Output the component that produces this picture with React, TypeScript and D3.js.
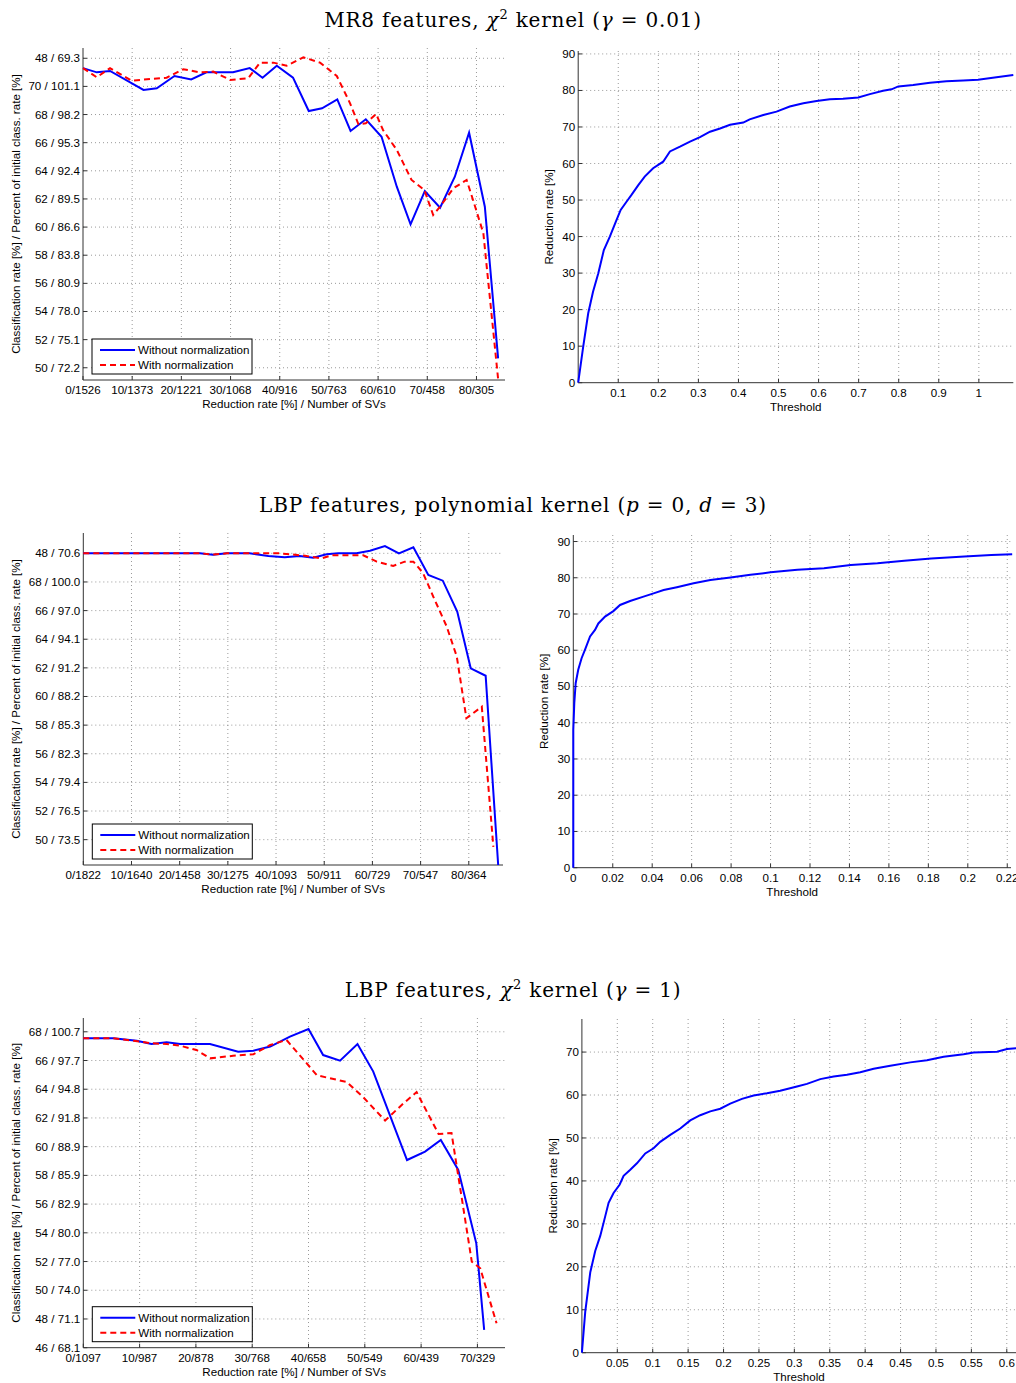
import React, { useEffect, useRef } from "react";
import * as d3 from "d3";

const SANS = "Liberation Sans, Arial, Helvetica, sans-serif";
const SERIF = "DejaVu Serif, Liberation Serif, serif";
const FS = 11.6;

// ---- MR8 features, chi2 kernel (gamma = 0.01) ----
const mr8XLabels = ["0/1526", "10/1373", "20/1221", "30/1068", "40/916", "50/763", "60/610", "70/458", "80/305"];
const mr8YTicks = [72, 70, 68, 66, 64, 62, 60, 58, 56, 54, 52, 50];
const mr8YLabels = ["48 / 69.3", "70 / 101.1", "68 / 98.2", "66 / 95.3", "64 / 92.4", "62 / 89.5", "60 / 86.6", "58 / 83.8", "56 / 80.9", "54 / 78.0", "52 / 75.1", "50 / 72.2"];
const mr8Without: [number, number][] = [
  [0, 71.3], [2.8, 71.0], [5.5, 71.1], [12.3, 69.75], [15.0, 69.87], [18.6, 70.74], [22.0, 70.5],
  [25.1, 71.0], [30.5, 71.0], [33.9, 71.3], [36.5, 70.62], [39.4, 71.47], [42.7, 70.62], [45.9, 68.25],
  [48.6, 68.44], [51.7, 69.08], [54.4, 66.83], [57.5, 67.66], [60.7, 66.42], [63.8, 62.87], [66.6, 60.19],
  [69.5, 62.56], [72.6, 61.38], [75.6, 63.58], [78.5, 66.71], [81.7, 61.45], [84.4, 50.67],
];
const mr8With: [number, number][] = [
  [0, 71.3], [2.8, 70.65], [5.5, 71.3], [9.9, 70.41], [17.0, 70.62], [20.4, 71.22], [23.8, 71.0],
  [26.5, 71.05], [29.9, 70.46], [33.6, 70.58], [36.0, 71.69], [38.7, 71.69], [41.4, 71.47], [44.8, 72.07],
  [48.2, 71.69], [49.9, 71.22], [51.6, 70.74], [54.3, 68.8], [56.0, 67.31], [57.5, 67.38], [59.6, 68.04],
  [61.0, 66.9], [63.8, 65.48], [66.8, 63.35], [69.4, 62.64], [71.2, 60.86], [72.6, 61.45], [75.3, 62.76],
  [78.0, 63.35], [79.3, 61.93], [81.4, 59.56], [84.4, 49.2],
];
const mr8Threshold: [number, number][] = [
  [0, 0], [0.0125, 9.9], [0.025, 19], [0.037, 24.9], [0.05, 29.9], [0.064, 36.3], [0.079, 40],
  [0.094, 44.1], [0.106, 47.3], [0.121, 49.6], [0.133, 51.4], [0.15, 54.1], [0.166, 56.4], [0.187, 58.7],
  [0.212, 60.5], [0.229, 63.3], [0.254, 64.6], [0.279, 66], [0.304, 67.2], [0.329, 68.7], [0.354, 69.6],
  [0.379, 70.6], [0.412, 71.2], [0.428, 72.1], [0.462, 73.3], [0.495, 74.2], [0.528, 75.6], [0.562, 76.5],
  [0.595, 77.1], [0.628, 77.6], [0.661, 77.7], [0.699, 78.1], [0.728, 79.0], [0.761, 79.9], [0.782, 80.3],
  [0.799, 81.1], [0.836, 81.5], [0.878, 82.1], [0.919, 82.5], [0.961, 82.7], [0.998, 82.9], [1.044, 83.6],
  [1.086, 84.2],
];

// ---- LBP features, polynomial kernel (p = 0, d = 3) ----
const polyXLabels = ["0/1822", "10/1640", "20/1458", "30/1275", "40/1093", "50/911", "60/729", "70/547", "80/364"];
const polyYTicks = [70, 68, 66, 64, 62, 60, 58, 56, 54, 52, 50];
const polyYLabels = ["48 / 70.6", "68 / 100.0", "66 / 97.0", "64 / 94.1", "62 / 91.2", "60 / 88.2", "58 / 85.3", "56 / 82.3", "54 / 79.4", "52 / 76.5", "50 / 73.5"];
const polyWithout: [number, number][] = [
  [0, 70], [24.2, 70], [26.9, 69.9], [29.8, 70], [34.5, 70], [38.4, 69.81], [41.8, 69.72], [44.9, 69.81],
  [47.7, 69.7], [50.5, 69.94], [52.9, 70], [56.7, 70], [59.5, 70.18], [62.6, 70.51], [65.5, 70],
  [68.5, 70.42], [71.6, 68.49], [74.6, 68.09], [77.6, 65.93], [80.4, 61.97], [83.5, 61.45], [86.1, 48.23],
];
const polyWith: [number, number][] = [
  [0, 70], [24.2, 70], [26.9, 69.92], [29.8, 70], [40.8, 70], [46.0, 69.83], [49.5, 69.65], [51.5, 69.86],
  [58.1, 69.86], [60.9, 69.42], [64.3, 69.12], [66.7, 69.42], [68.5, 69.42], [70.5, 68.63], [72.6, 67.0],
  [75.4, 64.9], [77.5, 62.8], [79.5, 58.48], [82.7, 59.29], [85.1, 49.5],
];
const polyThreshold: [number, number][] = [
  [0, 0], [0, 38], [0.0005, 45.4], [0.0012, 50.9], [0.0025, 54.6], [0.0042, 57.8], [0.0059, 60.1],
  [0.0085, 63.8], [0.011, 65.6], [0.0127, 67.4], [0.0161, 69.3], [0.0203, 70.8], [0.0237, 72.5],
  [0.0288, 73.6], [0.0356, 74.8], [0.0407, 75.7], [0.0458, 76.6], [0.0525, 77.4], [0.061, 78.5],
  [0.0695, 79.4], [0.0797, 80.1], [0.0898, 80.8], [0.1, 81.5], [0.1136, 82.2], [0.1271, 82.6],
  [0.1407, 83.5], [0.1542, 84.0], [0.1678, 84.7], [0.1814, 85.3], [0.1983, 85.9], [0.2119, 86.3],
  [0.2225, 86.5],
];

// ---- LBP features, chi2 kernel (gamma = 1) ----
const chiXLabels = ["0/1097", "10/987", "20/878", "30/768", "40/658", "50/549", "60/439", "70/329"];
const chiYTicks = [68, 66, 64, 62, 60, 58, 56, 54, 52, 50, 48, 46];
const chiYLabels = ["68 / 100.7", "66 / 97.7", "64 / 94.8", "62 / 91.8", "60 / 88.9", "58 / 85.9", "56 / 82.9", "54 / 80.0", "52 / 77.0", "50 / 74.0", "48 / 71.1", "46 / 68.1"];
const chiWithout: [number, number][] = [
  [0, 67.55], [5.3, 67.55], [9.5, 67.38], [12.1, 67.15], [14.8, 67.27], [17.2, 67.15], [22.5, 67.15],
  [27.5, 66.61], [30.2, 66.68], [33.2, 66.97], [36.7, 67.66], [40.0, 68.19], [42.6, 66.38], [45.6, 65.99],
  [48.7, 67.15], [51.5, 65.23], [57.5, 59.07], [60.7, 59.66], [63.5, 60.47], [66.6, 58.38], [69.8, 53.27],
  [71.2, 47.24],
];
const chiWith: [number, number][] = [
  [0, 67.55], [5.3, 67.55], [8.9, 67.38], [12.1, 67.2], [14.8, 67.15], [17.2, 67.03], [20.1, 66.73],
  [22.5, 66.15], [26.6, 66.33], [30.2, 66.43], [33.2, 67.08], [36.1, 67.43], [41.5, 64.97], [46.8, 64.5],
  [49.7, 63.45], [53.6, 61.82], [56.8, 62.99], [59.2, 63.8], [63.1, 60.88], [65.4, 60.95], [69.0, 51.99],
  [70.5, 51.53], [73.4, 47.7],
];
const chiThreshold: [number, number][] = [
  [0, 0], [0.0047, 9.5], [0.0118, 18.7], [0.0188, 23.7], [0.0259, 27.2], [0.033, 31.8], [0.0377, 34.9],
  [0.0447, 37.2], [0.0532, 39.1], [0.0589, 41.2], [0.0683, 42.6], [0.0777, 44.1], [0.0895, 46.4],
  [0.1012, 47.6], [0.1106, 49.1], [0.1248, 50.7], [0.1389, 52.2], [0.153, 54.1], [0.1671, 55.3],
  [0.1813, 56.2], [0.1954, 56.8], [0.2095, 58.0], [0.226, 59.1], [0.2425, 59.9], [0.2613, 60.4],
  [0.28, 61.0], [0.3037, 62.0], [0.3178, 62.6], [0.3366, 63.7], [0.3555, 64.3], [0.3743, 64.7],
  [0.3931, 65.3], [0.412, 66.1], [0.4355, 66.8], [0.4637, 67.6], [0.4873, 68.1], [0.5108, 68.9],
  [0.539, 69.5], [0.5532, 69.9], [0.5862, 70.1], [0.6003, 70.7], [0.6135, 70.9],
];

type Box = { left: number; top: number; right: number; bottom: number };
type Part = { t: string; i?: boolean; sup?: boolean };

function drawTitle(svg: any, cx: number, y: number, parts: Part[]) {
  const text = svg
    .append("text")
    .attr("x", cx)
    .attr("y", y)
    .attr("text-anchor", "middle")
    .attr("font-family", SERIF)
    .attr("font-size", 20)
    .attr("letter-spacing", 0.8)
    .attr("fill", "#000");
  let raised = false;
  parts.forEach(p => {
    const ts = text.append("tspan").text(p.t);
    if (p.i) ts.attr("font-style", "italic");
    if (p.sup) {
      ts.attr("font-size", 13).attr("dy", -8);
      raised = true;
    } else if (raised) {
      ts.attr("dy", 8);
      raised = false;
    }
  });
}

function drawGridAndAxes(g: any, box: Box, x: any, y: any, xTicks: number[], yTicks: number[]) {
  g.selectAll(".gx")
    .data(xTicks.filter(d => x(d) > box.left + 1))
    .enter()
    .append("line")
    .attr("x1", (d: number) => x(d))
    .attr("x2", (d: number) => x(d))
    .attr("y1", box.top)
    .attr("y2", box.bottom)
    .attr("stroke", "#808080")
    .attr("stroke-width", 0.8)
    .attr("stroke-dasharray", "1,3");

  g.selectAll(".gy")
    .data(yTicks.filter(d => y(d) < box.bottom - 1))
    .enter()
    .append("line")
    .attr("x1", box.left)
    .attr("x2", box.right)
    .attr("y1", (d: number) => y(d))
    .attr("y2", (d: number) => y(d))
    .attr("stroke", "#808080")
    .attr("stroke-width", 0.8)
    .attr("stroke-dasharray", "1,3");

  // axis lines
  g.append("line")
    .attr("x1", box.left).attr("x2", box.left)
    .attr("y1", box.top).attr("y2", box.bottom)
    .attr("stroke", "#333");
  g.append("line")
    .attr("x1", box.left).attr("x2", box.right)
    .attr("y1", box.bottom).attr("y2", box.bottom)
    .attr("stroke", "#333");

  // inward ticks
  g.selectAll(".tx")
    .data(xTicks)
    .enter()
    .append("line")
    .attr("x1", (d: number) => x(d))
    .attr("x2", (d: number) => x(d))
    .attr("y1", box.bottom)
    .attr("y2", box.bottom - 4)
    .attr("stroke", "#333");
  g.selectAll(".ty")
    .data(yTicks)
    .enter()
    .append("line")
    .attr("x1", box.left)
    .attr("x2", box.left + 4)
    .attr("y1", (d: number) => y(d))
    .attr("y2", (d: number) => y(d))
    .attr("stroke", "#333");
}

function drawClassPanel(
  svg: any,
  box: Box,
  xMax: number,
  yDomain: [number, number],
  yTicks: number[],
  yLabels: string[],
  xLabels: string[],
  without: [number, number][],
  withNorm: [number, number][]
) {
  const x = d3.scaleLinear().domain([0, xMax]).range([box.left, box.right]);
  const y = d3.scaleLinear().domain(yDomain).range([box.bottom, box.top]);
  const xTicks = xLabels.map((_, i) => i * 10);
  const g = svg.append("g");

  drawGridAndAxes(g, box, x, y, xTicks, yTicks);

  g.selectAll(".lx")
    .data(xLabels)
    .enter()
    .append("text")
    .attr("x", (_: string, i: number) => x(xTicks[i]))
    .attr("y", box.bottom + 14)
    .attr("text-anchor", "middle")
    .attr("font-family", SANS)
    .attr("font-size", FS)
    .text((d: string) => d);

  g.selectAll(".ly")
    .data(yLabels)
    .enter()
    .append("text")
    .attr("x", box.left - 3)
    .attr("y", (_: string, i: number) => y(yTicks[i]) + 4)
    .attr("text-anchor", "end")
    .attr("font-family", SANS)
    .attr("font-size", FS)
    .text((d: string) => d);

  const lineGen = d3
    .line<[number, number]>()
    .x(d => x(d[0]))
    .y(d => y(d[1]));

  g.append("path")
    .datum(without)
    .attr("fill", "none")
    .attr("stroke", "#0000ff")
    .attr("stroke-width", 2)
    .attr("d", lineGen);
  g.append("path")
    .datum(withNorm)
    .attr("fill", "none")
    .attr("stroke", "#ff0000")
    .attr("stroke-width", 2)
    .attr("stroke-dasharray", "6,4")
    .attr("d", lineGen);

  // axis titles
  g.append("text")
    .attr("x", (box.left + box.right) / 2)
    .attr("y", box.bottom + 28)
    .attr("text-anchor", "middle")
    .attr("font-family", SANS)
    .attr("font-size", FS)
    .text("Reduction rate [%] / Number of SVs");
  g.append("text")
    .attr("transform", `translate(20,${(box.top + box.bottom) / 2}) rotate(-90)`)
    .attr("text-anchor", "middle")
    .attr("font-family", SANS)
    .attr("font-size", FS)
    .text("Classification rate [%] / Percent of initial class. rate [%]");

  // legend
  const lg = g.append("g").attr("transform", `translate(${box.left + 9},${box.bottom - 41})`);
  lg.append("rect")
    .attr("width", 160)
    .attr("height", 35)
    .attr("fill", "#fff")
    .attr("stroke", "#000");
  const items = [
    { label: "Without normalization", color: "#0000ff", dash: null },
    { label: "With normalization", color: "#ff0000", dash: "6,4" },
  ];
  items.forEach((it, i) => {
    const yy = 11 + i * 15;
    lg.append("line")
      .attr("x1", 8)
      .attr("x2", 43)
      .attr("y1", yy)
      .attr("y2", yy)
      .attr("stroke", it.color)
      .attr("stroke-width", 2)
      .attr("stroke-dasharray", it.dash);
    lg.append("text")
      .attr("x", 46)
      .attr("y", yy + 4)
      .attr("font-family", SANS)
      .attr("font-size", FS)
      .text(it.label);
  });
}

function drawThresholdPanel(
  svg: any,
  box: Box,
  xMax: number,
  yMax: number,
  xTicks: number[],
  yTicks: number[],
  curve: [number, number][]
) {
  const x = d3.scaleLinear().domain([0, xMax]).range([box.left, box.right]);
  const y = d3.scaleLinear().domain([0, yMax]).range([box.bottom, box.top]);
  const g = svg.append("g");

  drawGridAndAxes(g, box, x, y, xTicks, yTicks);

  g.selectAll(".lx")
    .data(xTicks)
    .enter()
    .append("text")
    .attr("x", (d: number) => x(d))
    .attr("y", box.bottom + 14)
    .attr("text-anchor", "middle")
    .attr("font-family", SANS)
    .attr("font-size", FS)
    .text((d: number) => String(+d.toFixed(3)));

  g.selectAll(".ly")
    .data(yTicks)
    .enter()
    .append("text")
    .attr("x", box.left - 3)
    .attr("y", (d: number) => y(d) + 4)
    .attr("text-anchor", "end")
    .attr("font-family", SANS)
    .attr("font-size", FS)
    .text((d: number) => String(d));

  const lineGen = d3
    .line<[number, number]>()
    .x(d => x(d[0]))
    .y(d => y(d[1]));
  g.append("path")
    .datum(curve)
    .attr("fill", "none")
    .attr("stroke", "#0000ff")
    .attr("stroke-width", 2)
    .attr("d", lineGen);

  g.append("text")
    .attr("x", (box.left + box.right) / 2)
    .attr("y", box.bottom + 28)
    .attr("text-anchor", "middle")
    .attr("font-family", SANS)
    .attr("font-size", FS)
    .text("Threshold");
  g.append("text")
    .attr("transform", `translate(${box.left - 25},${(box.top + box.bottom) / 2}) rotate(-90)`)
    .attr("text-anchor", "middle")
    .attr("font-family", SANS)
    .attr("font-size", FS)
    .text("Reduction rate [%]");
}

const App = () => {
  const ref = useRef<SVGSVGElement>(null);

  useEffect(() => {
    const svg = d3.select(ref.current);
    svg.selectAll("*").remove();

    // row 1
    drawTitle(svg, 513, 27, [
      { t: "MR8 features, " }, { t: "χ", i: true }, { t: "2", sup: true },
      { t: " kernel (" }, { t: "γ", i: true }, { t: " = 0.01)" },
    ]);
    drawClassPanel(svg, { left: 83, top: 48, right: 505, bottom: 380 }, 85.8, [49.13, 72.73],
      mr8YTicks, mr8YLabels, mr8XLabels, mr8Without, mr8With);
    drawThresholdPanel(svg, { left: 578.2, top: 51, right: 1013.3, bottom: 382.7 }, 1.086, 90.8,
      d3.range(1, 11).map(i => i / 10), d3.range(0, 100, 10), mr8Threshold);

    // row 2
    drawTitle(svg, 513, 512, [
      { t: "LBP features, polynomial kernel (" }, { t: "p", i: true }, { t: " = 0, " },
      { t: "d", i: true }, { t: " = 3)" },
    ]);
    drawClassPanel(svg, { left: 83.3, top: 533, right: 503, bottom: 865 }, 87.1, [48.23, 71.42],
      polyYTicks, polyYLabels, polyXLabels, polyWithout, polyWith);
    drawThresholdPanel(svg, { left: 573.3, top: 535, right: 1011, bottom: 867.7 }, 0.2219, 91.8,
      d3.range(0, 12).map(i => i * 0.02), d3.range(0, 100, 10), polyThreshold);

    // row 3
    drawTitle(svg, 513, 997, [
      { t: "LBP features, " }, { t: "χ", i: true }, { t: "2", sup: true },
      { t: " kernel (" }, { t: "γ", i: true }, { t: " = 1)" },
    ]);
    drawClassPanel(svg, { left: 83.3, top: 1018, right: 505, bottom: 1347.7 }, 74.9, [46, 68.96],
      chiYTicks, chiYLabels, chiXLabels, chiWithout, chiWith);
    drawThresholdPanel(svg, { left: 581.9, top: 1019, right: 1016, bottom: 1352.7 }, 0.613, 77.7,
      d3.range(1, 13).map(i => i * 0.05), d3.range(0, 80, 10), chiThreshold);
  }, []);

  return (
    <svg
      ref={ref}
      width={1016}
      height={1383}
      style={{ position: "absolute", left: 0, top: 0, background: "#fff" }}
    />
  );
};

export default App;
